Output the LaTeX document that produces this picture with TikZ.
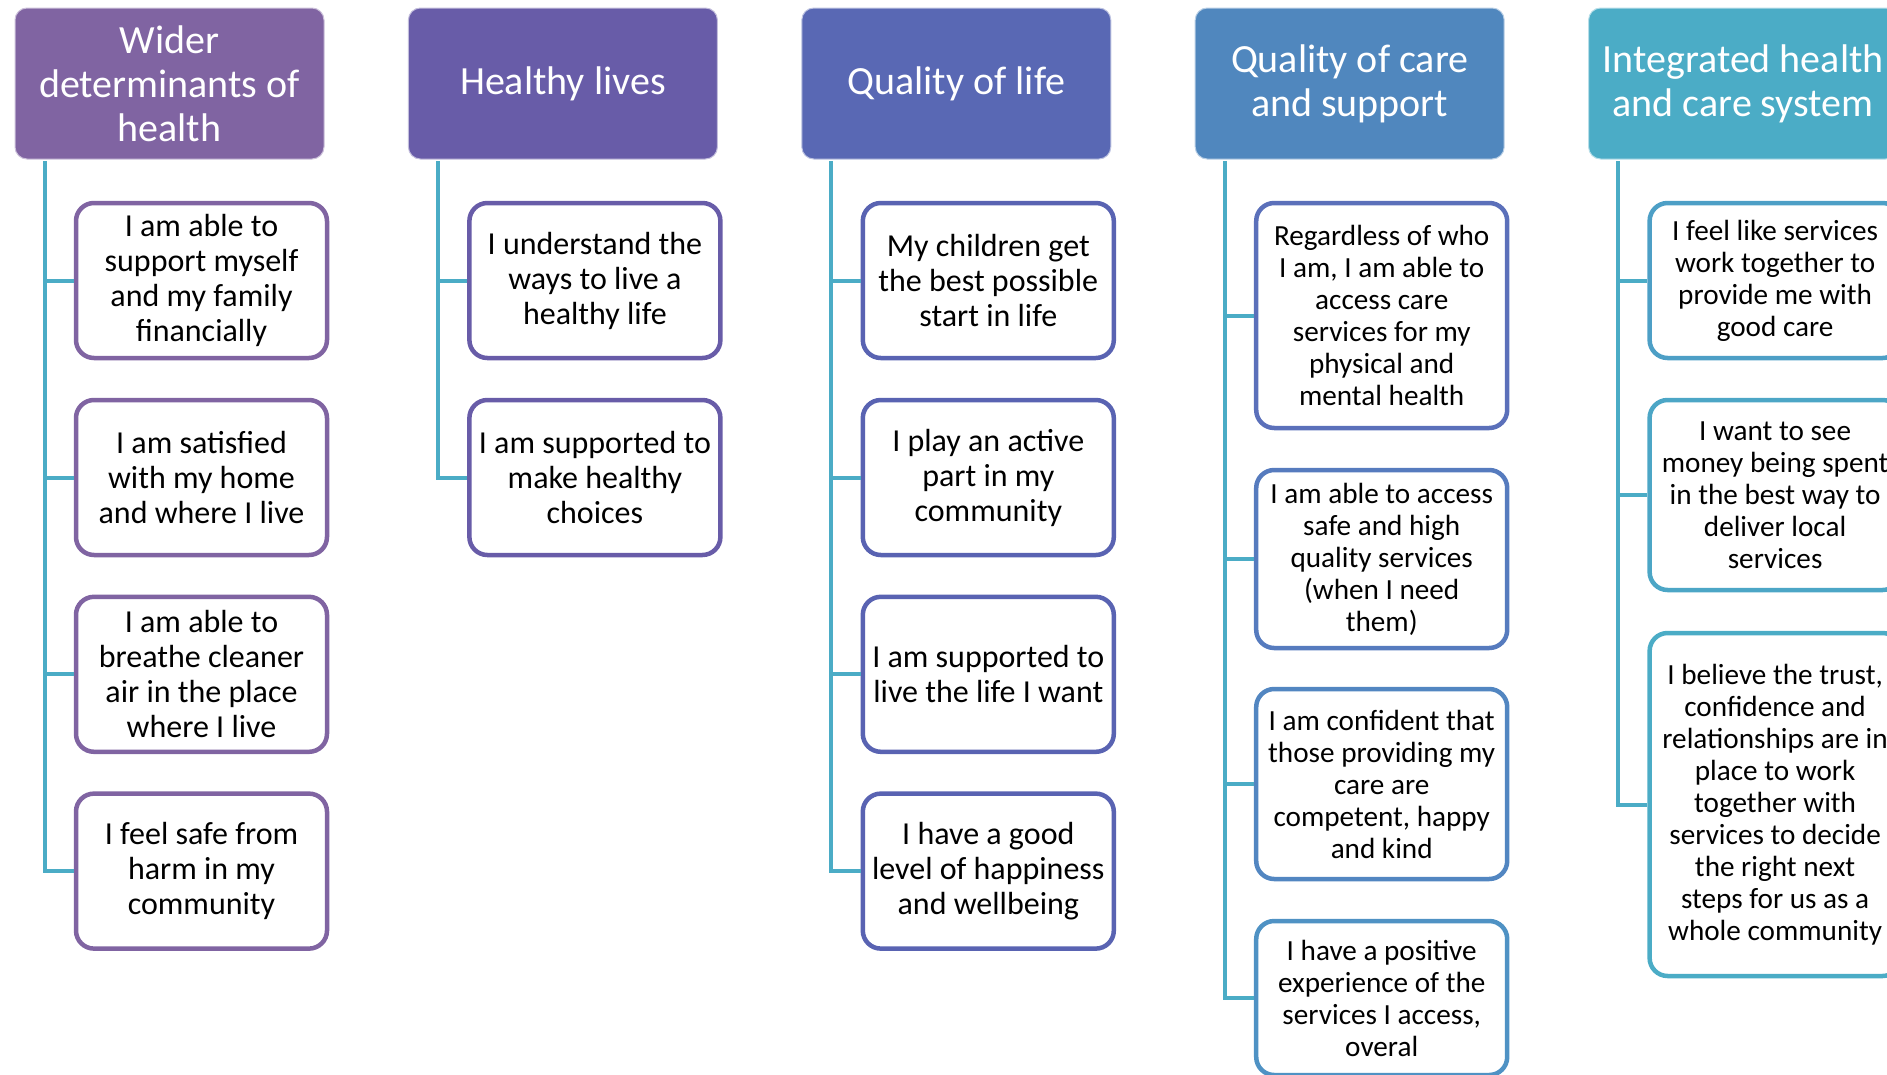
\documentclass[tikz,border=0pt]{standalone}
\usepackage{fontspec}
\setmainfont{Carlito}
\definecolor{hdA}{HTML}{8064A2}
\definecolor{hdB}{HTML}{685CA8}
\definecolor{hdC}{HTML}{5968B4}
\definecolor{hdD}{HTML}{5087BE}
\definecolor{hdE}{HTML}{4BACC6}
\definecolor{bdA}{HTML}{8064A2}
\definecolor{bdB}{HTML}{685CA8}
\definecolor{bdC}{HTML}{5963B2}
\definecolor{bdD1}{HTML}{5B70BA}
\definecolor{bdD2}{HTML}{567BBE}
\definecolor{bdD3}{HTML}{5286C1}
\definecolor{bdD4}{HTML}{4F92C4}
\definecolor{bdE1}{HTML}{4D9FC6}
\definecolor{bdE2}{HTML}{4CA6C6}
\definecolor{bdE3}{HTML}{4BACC6}
\definecolor{spinecol}{HTML}{4BACC6}
\begin{document}
\begin{tikzpicture}[x=1pt,y=-1pt,
  head node/.style={rectangle,rounded corners=12pt,draw=white!60!#1,fill=#1,line width=1pt,
    minimum width=309pt,minimum height=151pt,text=white,align=center,
    font=\fontsize{40}{44}\selectfont},
  item node/.style={rectangle,rounded corners=18pt,draw=#1,fill=white,line width=4.5pt,
    minimum width=251pt,align=center,inner sep=2pt,font=\fontsize{32}{35}\selectfont},
  small/.style={font=\fontsize{29.2}{32}\selectfont},
  spine/.style={draw=spinecol,line width=4pt}]

  \clip (0,0) rectangle (1887,1074);

  % headers
  \node[head node=hdA] (h1) at (169.5,83.5) {Wider\\determinants of\\health};
  \node[head node=hdB] (h2) at (562.9,83.5) {Healthy lives};
  \node[head node=hdC] (h3) at (956.3,83.5) {Quality of life};
  \node[head node=hdD] (h4) at (1349.7,83.5) {Quality of care\\and support};
  \node[head node=hdE] (h5) at (1743.1,83.5) {Integrated health\\and care system};

  % spine tops
  \coordinate (s1) at (44.5,161);
  \coordinate (s2) at (437.9,161);
  \coordinate (s3) at (831.3,161);
  \coordinate (s4) at (1224.7,161);
  \coordinate (s5) at (1618.1,161);

  % wider determinants
  \node[item node=bdA,minimum height=155pt] (a1) at (201.5,280.5) {I am able to\\support myself\\and my family\\financially};
  \node[item node=bdA,minimum height=155pt] (a2) at (201.5,477.5) {I am satisfied\\with my home\\and where I live};
  \node[item node=bdA,minimum height=155pt] (a3) at (201.5,674.3) {I am able to\\breathe cleaner\\air in the place\\where I live};
  \node[item node=bdA,minimum height=155pt] (a4) at (201.5,871.1) {I feel safe from\\harm in my\\community};

  % healthy lives
  \node[item node=bdB,minimum height=155pt] (b1) at (594.9,280.5) {I understand the\\ways to live a\\healthy life};
  \node[item node=bdB,minimum height=155pt] (b2) at (594.9,477.5) {I am supported to\\make healthy\\choices};

  % quality of life
  \node[item node=bdC,minimum height=155pt] (c1) at (988.3,280.5) {My children get\\the best possible\\start in life};
  \node[item node=bdC,minimum height=155pt] (c2) at (988.3,477.5) {I play an active\\part in my\\community};
  \node[item node=bdC,minimum height=155pt] (c3) at (988.3,674.3) {I am supported to\\live the life I want};
  \node[item node=bdC,minimum height=155pt] (c4) at (988.3,871.1) {I have a good\\level of happiness\\and wellbeing};

  % quality of care
  \node[item node=bdD1,small,minimum height=225pt] (d1) at (1381.7,315.5) {Regardless of who\\I am, I am able to\\access care\\services for my\\physical and\\mental health};
  \node[item node=bdD2,small,minimum height=178pt] (d2) at (1381.7,559) {I am able to access\\safe and high\\quality services\\(when I need\\them)};
  \node[item node=bdD3,small,minimum height=190pt] (d3) at (1381.7,784) {I am confident that\\those providing my\\care are\\competent, happy\\and kind};
  \node[item node=bdD4,small,minimum height=154pt] (d4) at (1381.7,998) {I have a positive\\experience of the\\services I access,\\overal};

  % integrated system
  \node[item node=bdE1,small,minimum height=155pt] (e1) at (1775.1,280.5) {I feel like services\\work together to\\provide me with\\good care};
  \node[item node=bdE2,small,minimum height=190pt] (e2) at (1775.1,495) {I want to see\\money being spent\\in the best way to\\deliver local\\services};
  \node[item node=bdE3,small,minimum height=343pt] (e3) at (1775.1,804.5) {I believe the trust,\\confidence and\\relationships are in\\place to work\\together with\\services to decide\\the right next\\steps for us as a\\whole community};

  \path[spine,every edge/.style={spine,to path={|- (\tikztotarget.west)}}]
    (s1) edge (a1) (s1) edge (a2) (s1) edge (a3) (s1) edge (a4)
    (s2) edge (b1) (s2) edge (b2)
    (s3) edge (c1) (s3) edge (c2) (s3) edge (c3) (s3) edge (c4)
    (s4) edge (d1) (s4) edge (d2) (s4) edge (d3) (s4) edge (d4)
    (s5) edge (e1) (s5) edge (e2) (s5) edge (e3);
\end{tikzpicture}
\end{document}
